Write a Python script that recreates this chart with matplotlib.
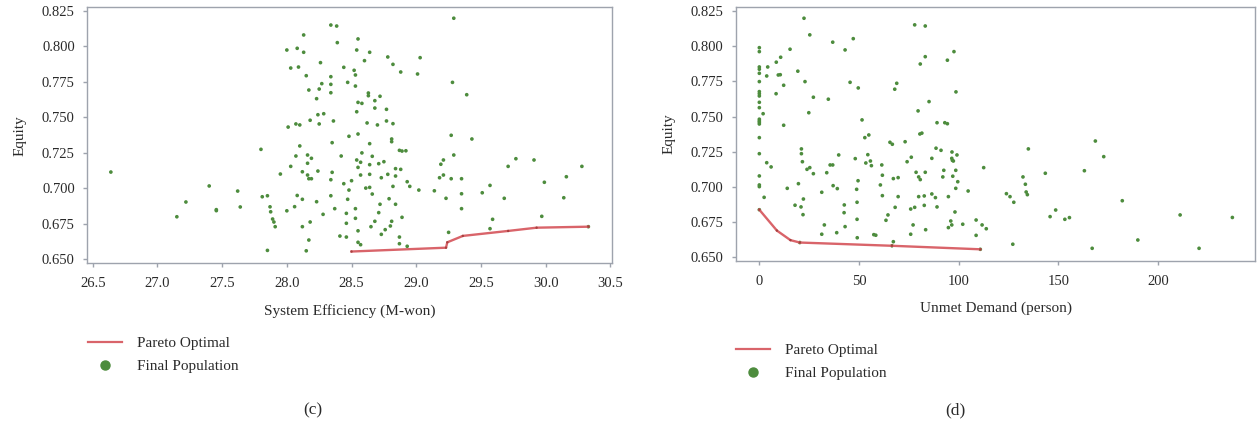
import matplotlib
matplotlib.use("Agg")
import matplotlib.pyplot as plt
from matplotlib.lines import Line2D
import numpy as np

# ---- data: panel (c) System Efficiency vs Equity ----
eff_pop_x = [
    26.64, 27.15, 27.22, 27.40, 27.455, 27.455, 27.62, 27.64, 27.80, 27.81, 27.85, 27.85,
    27.87, 27.875, 27.89, 27.90, 27.91,
    28.34, 28.385, 28.13, 28.39, 28.00, 28.08, 28.13, 28.26, 28.03, 28.09, 28.44, 28.15,
    28.34, 28.27, 28.34, 28.47, 28.17, 28.25, 28.34, 28.23, 28.24, 28.285, 28.18, 28.25,
    28.36, 28.01, 28.07, 28.10, 28.48, 28.35, 28.10, 28.07, 28.16, 28.19, 28.42, 28.16,
    28.03, 28.12, 28.24, 28.35, 27.95, 28.16, 28.17, 28.19, 28.34, 28.44, 28.48, 28.34,
    28.08, 28.12, 28.47, 28.23, 28.06, 28.00, 28.37, 28.28, 28.46, 28.18, 28.12, 28.46,
    28.41, 28.46, 28.17, 28.15,
    28.55, 28.54, 28.64, 28.78, 28.60, 28.82, 29.03, 28.52, 28.53, 28.88, 29.01, 28.53,
    28.63, 28.63, 28.68, 28.72, 28.55, 28.58, 28.68, 28.77, 28.54, 28.77, 28.62, 28.70,
    28.82, 28.55, 28.81, 28.81, 28.64, 28.87, 28.89, 28.92, 28.58, 28.66, 28.54, 28.57,
    28.75, 28.71, 28.64, 28.55, 28.84, 28.88, 28.78, 28.64, 28.57, 28.84, 28.73, 28.50,
    28.93, 28.82, 28.95, 28.61, 28.64, 29.02, 28.66, 28.79, 28.72, 28.84, 28.53, 28.71,
    28.89, 28.53, 28.68, 28.81, 28.65, 28.80, 28.55, 28.76, 28.73, 28.87, 28.55, 28.57,
    28.87, 28.93,
    29.29, 29.28, 29.39, 29.27, 29.43, 29.29, 29.21, 29.19, 29.77, 29.91, 29.71, 30.28,
    29.21, 29.18, 29.27, 29.35, 30.16, 29.99, 29.57, 29.14, 29.35, 29.51, 29.23, 29.68,
    30.14, 29.35, 29.97, 29.59, 29.57, 29.25, 30.33,
]
eff_pop_y = [
    0.7115, 0.6800, 0.6904, 0.7017, 0.6850, 0.6843, 0.6981, 0.6869, 0.7275, 0.6941, 0.6948, 0.6563,
    0.6870, 0.6835, 0.6784, 0.6763, 0.6730,
    0.8151, 0.8144, 0.8081, 0.8027, 0.7975, 0.7987, 0.7959, 0.7886, 0.7848, 0.7855, 0.7853, 0.7794,
    0.7787, 0.7738, 0.7733, 0.7747, 0.7693, 0.7700, 0.7674, 0.7632, 0.7519, 0.7526, 0.7480, 0.7454,
    0.7475, 0.7432, 0.7454, 0.7447, 0.7367, 0.7322, 0.7299, 0.7228, 0.7235, 0.7212, 0.7228, 0.7177,
    0.7155, 0.7117, 0.7122, 0.7113, 0.7101, 0.7094, 0.7068, 0.7068, 0.7061, 0.7033, 0.6988, 0.6948,
    0.6950, 0.6923, 0.6923, 0.6906, 0.6871, 0.6842, 0.6857, 0.6817, 0.6824, 0.6763, 0.6730, 0.6754,
    0.6664, 0.6657, 0.6636, 0.6560,
    0.8053, 0.7975, 0.7959, 0.7926, 0.7900, 0.7874, 0.7921, 0.7832, 0.7799, 0.7820, 0.7806, 0.7721,
    0.7672, 0.7653, 0.7618, 0.7649, 0.7606, 0.7599, 0.7566, 0.7557, 0.7540, 0.7475, 0.7461, 0.7447,
    0.7456, 0.7383, 0.7348, 0.7329, 0.7315, 0.7268, 0.7263, 0.7265, 0.7250, 0.7226, 0.7200, 0.7184,
    0.7188, 0.7174, 0.7167, 0.7148, 0.7139, 0.7134, 0.7099, 0.7099, 0.7094, 0.7087, 0.7075, 0.7054,
    0.7047, 0.7014, 0.7014, 0.7002, 0.7007, 0.6988, 0.6960, 0.6927, 0.6888, 0.6888, 0.6857, 0.6829,
    0.6796, 0.6789, 0.6768, 0.6768, 0.6730, 0.6735, 0.6701, 0.6709, 0.6676, 0.6657, 0.6620, 0.6603,
    0.6610, 0.6592,
    0.8199, 0.7747, 0.7660, 0.7374, 0.7348, 0.7235, 0.7200, 0.7170, 0.7209, 0.7200, 0.7155, 0.7155,
    0.7094, 0.7075, 0.7068, 0.7068, 0.7082, 0.7043, 0.7021, 0.6983, 0.6962, 0.6969, 0.6930, 0.6930,
    0.6934, 0.6857, 0.6803, 0.6782, 0.6716, 0.6690, 0.6730,
]
eff_pareto_x = [28.50, 29.23, 29.24, 29.36, 29.71, 29.93, 30.33]
eff_pareto_y = [0.6555, 0.6582, 0.6620, 0.6665, 0.6700, 0.6723, 0.6730]

# ---- data: panel (d) Unmet Demand vs Equity ----
dem_pop_x = [0] * 21 + [
    22.4, 25.3, 36.8, 15.4, 10.7, 8.5, 4.2, 19.3, 9.5, 10.5, 3.7, 22.9, 12.2, 8.4, 34.6,
    27.1, 1.9, 24.8, 12.2, 21.1, 21.1, 21.6, 3.7, 5.9, 23.9, 25.3, 27.1, 33.8, 35.5, 36.8,
    37.0, 14.0, 19.6, 31.3, 2.4, 22.1, 17.9, 20.9, 21.9, 32.6, 31.3,
    77.9, 47.1, 43.0, 45.5, 49.6, 68.9, 67.9, 79.6, 51.5, 52.9, 54.9, 65.5, 66.7, 73.1,
    39.8, 54.4, 48.1, 76.2, 53.4, 55.7, 56.2, 61.4, 74.1, 61.7, 49.5, 67.2, 69.6, 39.1,
    60.7, 48.8, 61.7, 69.6, 79.9, 49.0, 42.6, 68.1, 75.9, 77.9, 42.5, 64.5, 49.0, 63.5,
    77.1, 43.0, 38.8, 57.4, 58.4, 75.9, 49.1, 67.2, 20.3, 66.5,
    83.2, 97.6, 94.3, 83.2, 80.7, 98.6, 85.1, 89.1, 93.0, 94.3, 80.5, 81.5, 88.6, 91.1,
    96.6, 99.1, 86.5, 96.5, 96.8, 97.3, 78.6, 83.2, 92.5, 98.5, 79.9, 80.7, 92.0, 97.0,
    99.5, 98.5, 104.7, 86.5, 88.3, 82.7, 94.8, 82.7, 89.1, 98.1, 96.0, 96.5, 94.8, 102.0,
    83.4,
    112.5, 108.7, 111.7, 113.8, 108.7, 123.9, 125.7, 127.6, 127.1, 132.2, 133.4, 133.8,
    134.4, 134.9, 143.4, 148.6, 145.8, 153.2, 155.5, 163.0, 168.5, 172.7, 166.9, 182.0,
    189.8, 211.0, 220.5, 237.2, 110.8,
]
dem_pop_y = [
    0.7989, 0.7961, 0.7852, 0.7836, 0.7807, 0.7748, 0.7677, 0.7662, 0.7646, 0.7601, 0.7563,
    0.7481, 0.7469, 0.7459, 0.7447, 0.7350, 0.7236, 0.7078, 0.7014, 0.7002, 0.6838,
    0.8198, 0.8080, 0.8028, 0.7978, 0.7921, 0.7886, 0.7852, 0.7822, 0.7795, 0.7797, 0.7788,
    0.7748, 0.7722, 0.7662, 0.7623, 0.7637, 0.7520, 0.7527, 0.7438, 0.7270, 0.7236, 0.7179,
    0.7172, 0.7142, 0.7125, 0.7137, 0.7094, 0.7101, 0.7156, 0.7156, 0.7009, 0.6990, 0.7023,
    0.6962, 0.6926, 0.6914, 0.6870, 0.6858, 0.6803, 0.6730, 0.6664,
    0.8151, 0.8053, 0.7973, 0.7743, 0.7703, 0.7736, 0.7694, 0.7540, 0.7476, 0.7350, 0.7369,
    0.7317, 0.7303, 0.7321, 0.7227, 0.7229, 0.7201, 0.7211, 0.7170, 0.7184, 0.7151, 0.7156,
    0.7179, 0.7083, 0.7044, 0.7059, 0.7066, 0.6988, 0.7014, 0.6983, 0.6938, 0.6931, 0.6931,
    0.6891, 0.6872, 0.6855, 0.6843, 0.6855, 0.6817, 0.6801, 0.6770, 0.6763, 0.6730, 0.6718,
    0.6675, 0.6661, 0.6657, 0.6664, 0.6639, 0.6611, 0.6605, 0.6582,
    0.8143, 0.7961, 0.7900, 0.7925, 0.7873, 0.7675, 0.7606, 0.7456, 0.7456, 0.7449, 0.7376,
    0.7382, 0.7275, 0.7260, 0.7248, 0.7227, 0.7203, 0.7203, 0.7189, 0.7184, 0.7104, 0.7104,
    0.7118, 0.7118, 0.7071, 0.7052, 0.7071, 0.7076, 0.7037, 0.6990, 0.6971, 0.6950, 0.6924,
    0.6936, 0.6931, 0.6869, 0.6858, 0.6822, 0.6758, 0.6730, 0.6711, 0.6735, 0.6696,
    0.7137, 0.6765, 0.6730, 0.6703, 0.6656, 0.6952, 0.6931, 0.6891, 0.6593, 0.7071, 0.7019,
    0.6964, 0.6945, 0.7270, 0.7097, 0.6836, 0.6789, 0.6770, 0.6782, 0.7115, 0.7326, 0.7215,
    0.6564, 0.6902, 0.6623, 0.6801, 0.6564, 0.6783, 0.6557,
]
dem_pareto_x = [0, 8.8, 15.6, 20.3, 66.5, 110.8]
dem_pareto_y = [0.6838, 0.6690, 0.6622, 0.6605, 0.6582, 0.6557]

equity_ticks = [0.650, 0.675, 0.700, 0.725, 0.750, 0.775, 0.800, 0.825]
eff_ticks = [26.5, 27.0, 27.5, 28.0, 28.5, 29.0, 29.5, 30.0, 30.5]
dem_ticks = [0, 50, 100, 150, 200]

# ---- styling ----
SERIF = ["Liberation Serif", "DejaVu Serif"]
plt.rcParams["font.family"] = SERIF
TEXT = "#2a2a2a"
FRAME = "#9ea3ad"
DOT = "#4d8c3d"
LINE = "#d9646a"
VERTEX = "#a8403f"

W, H = 1259, 426
fig = plt.figure(figsize=(W / 100, H / 100), dpi=100)


def px_axes(x0, y0, x1, y1):
    return fig.add_axes([x0 / W, 1 - y1 / H, (x1 - x0) / W, (y1 - y0) / H])


def style(ax, xticks, xlim, ylim, fmt_x):
    for s in ax.spines.values():
        s.set_color(FRAME)
        s.set_linewidth(1.0)
    ax.set_xlim(*xlim)
    ax.set_ylim(*ylim)
    ax.set_xticks(xticks)
    ax.set_xticklabels([fmt_x(v) for v in xticks])
    ax.set_yticks(equity_ticks)
    ax.set_yticklabels([f"{v:.3f}" for v in equity_ticks])
    ax.tick_params(axis="both", direction="out", length=3, width=1.0, color=FRAME,
                   labelsize=10.5, labelcolor=TEXT, top=False, right=False)
    ax.tick_params(axis="y", pad=6)
    ax.tick_params(axis="x", pad=7)


def draw(ax, px, py, qx, qy):
    ax.scatter(px, py, s=7, color=DOT, edgecolors="none", zorder=2)
    ax.plot(qx, qy, color=LINE, lw=1.7, zorder=3)
    ax.scatter(qx, qy, s=3, color=VERTEX, edgecolors="none", zorder=4)


ax1 = px_axes(87.3, 7.3, 612.3, 263.3)
draw(ax1, eff_pop_x, eff_pop_y, eff_pareto_x, eff_pareto_y)
style(ax1, eff_ticks, (26.458, 30.515), (0.6472, 0.8276), lambda v: f"{v:.1f}")
ax1.set_xlabel("System Efficiency (M-won)", fontsize=11, color=TEXT, labelpad=10)
ax1.set_ylabel("Equity", fontsize=11, color=TEXT, labelpad=11)

ax2 = px_axes(736, 6.7, 1255.3, 260.7)
draw(ax2, dem_pop_x, dem_pop_y, dem_pareto_x, dem_pareto_y)
style(ax2, dem_ticks, (-11.7, 248.7), (0.6476, 0.828), lambda v: f"{v:d}")
ax2.set_xlabel("Unmet Demand (person)", fontsize=11, color=TEXT, labelpad=10)
ax2.set_ylabel("Equity", fontsize=11, color=TEXT, labelpad=11)


def legend_at(x_px, y_px):
    handles = [
        Line2D([], [], color=LINE, lw=1.6),
        Line2D([], [], color=DOT, lw=0, marker="o", markersize=6.5),
    ]
    fig.legend(handles, ["Pareto Optimal", "Final Population"], loc="center left",
               bbox_to_anchor=(x_px / W, 1 - y_px / H), frameon=False, fontsize=11,
               handlelength=2.2, handletextpad=1.0, labelspacing=0.62,
               borderpad=0, borderaxespad=0, labelcolor=TEXT)


legend_at(88, 355)
legend_at(736, 362)

fig.text(313 / W, 1 - 410 / H, "(c)", ha="center", va="center", fontsize=12.5, color=TEXT)
fig.text(955 / W, 1 - 410 / H, "(d)", ha="center", va="center", fontsize=12.5, color=TEXT)

fig.savefig("out.png", dpi=100)
